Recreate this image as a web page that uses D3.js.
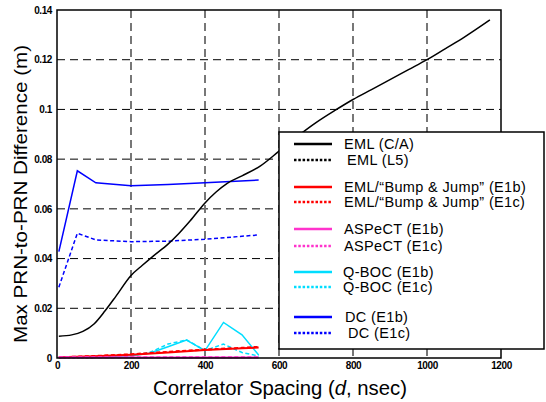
<!DOCTYPE html>
<html>
<head>
<meta charset="utf-8">
<script src="https://cdn.jsdelivr.net/npm/d3@7"></script>
<style>
  body { margin: 0; background: #fff; }
  text { font-family: 'Liberation Sans', Arial, sans-serif; }
</style>
</head>
<body>
<div id="chart"></div>
<script>
// data (x = correlator spacing in nsec, y = metres)
const emlCA = [[5,0.0088],[40,0.0093],[70,0.0107],[100,0.0137],[130,0.019],[160,0.025],[200,0.0332],
  [230,0.0372],[260,0.041],[300,0.0458],[330,0.0502],[360,0.0552],[400,0.0624],[430,0.0668],[460,0.0703],
  [500,0.0733],[550,0.0773],[600,0.0832],[650,0.0892],[700,0.0947],[750,0.0995],[800,0.104],[850,0.108],
  [900,0.112],[950,0.116],[1000,0.12],[1050,0.1245],[1100,0.129],[1170,0.136]];
const emlL5 = [[5,0.0002],[50,0.0002],[100,0.0002]];
const bjE1b = [[5,0.0003],[100,0.0007],[200,0.0013],[300,0.0022],[400,0.0032],[500,0.0039],[545,0.0042]];
const bjE1c = [[5,0.0003],[100,0.0008],[200,0.0015],[300,0.0025],[400,0.0034],[500,0.0041],[545,0.0045]];
const aspE1b = [[5,0.0002],[200,0.0002],[400,0.0002],[545,0.0002]];
const aspE1c = [[5,0.0003],[200,0.0003],[400,0.0003],[545,0.0003]];
const qbocE1b = [[5,0.0003],[100,0.0005],[200,0.0009],[250,0.0019],[300,0.0045],[350,0.0072],[400,0.003],
  [450,0.0143],[500,0.0093],[545,0.0012]];
const qbocE1c = [[5,0.0003],[100,0.0005],[200,0.0009],[250,0.0022],[300,0.0056],[350,0.0073],[400,0.003],
  [450,0.0056],[500,0.0022],[545,0.0008]];
const dcE1b = [[5,0.0428],[55,0.0753],[105,0.0705],[200,0.0693],[300,0.0698],[400,0.0705],[545,0.0716]];
const dcE1c = [[5,0.0285],[55,0.0502],[105,0.0475],[200,0.0468],[300,0.047],[400,0.0478],[545,0.0495]];

const xTicks = [0, 200, 400, 600, 800, 1000, 1200];
const yTicks = [0, 0.02, 0.04, 0.06, 0.08, 0.1, 0.12, 0.14];
const yTickLabels = ['0', '0.02', '0.04', '0.06', '0.08', '0.1', '0.12', '0.14'];

const series = [
  { name: 'EML (C/A)', data: emlCA, color: '#000', dash: null },
  { name: 'EML (L5)', data: emlL5, color: '#000', dash: '2.5,2' },
  { name: 'EML/\u201cBump & Jump\u201d (E1b)', data: bjE1b, color: '#ff0000', dash: null },
  { name: 'EML/\u201cBump & Jump\u201d (E1c)', data: bjE1c, color: '#ff0000', dash: '4,2.5' },
  { name: 'ASPeCT (E1b)', data: aspE1b, color: '#ff33cc', dash: null },
  { name: 'ASPeCT (E1c)', data: aspE1c, color: '#ff33cc', dash: '4,2.5' },
  { name: 'Q-BOC (E1b)', data: qbocE1b, color: '#00ddff', dash: null },
  { name: 'Q-BOC (E1c)', data: qbocE1c, color: '#00ddff', dash: '4,2.5' },
  { name: 'DC (E1b)', data: dcE1b, color: '#0000ff', dash: null },
  { name: 'DC (E1c)', data: dcE1c, color: '#0000ff', dash: '4,2.5' }
];

const W = 546, H = 402;
const margin = { top: 10, right: 45, bottom: 44, left: 57 };
const width = W - margin.left - margin.right;
const height = H - margin.top - margin.bottom;

const svg = d3.select('#chart').append('svg')
  .attr('width', W).attr('height', H);
const g = svg.append('g').attr('transform', `translate(${margin.left},${margin.top})`);

const x = d3.scaleLinear().domain([0, 1200]).range([0, width]);
const y = d3.scaleLinear().domain([0, 0.14]).range([height, 0]);

// grid
g.selectAll('.hgrid').data(yTicks.filter(d => d > 0 && d < 0.14)).enter()
  .append('line').attr('class', 'hgrid')
  .attr('x1', 0).attr('x2', width)
  .attr('y1', d => y(d)).attr('y2', d => y(d))
  .attr('stroke', '#000').attr('stroke-width', 1).attr('stroke-dasharray', '8,5');
g.selectAll('.vgrid').data(xTicks.filter(d => d > 0 && d < 1200)).enter()
  .append('line').attr('class', 'vgrid')
  .attr('x1', d => x(d)).attr('x2', d => x(d))
  .attr('y1', 0).attr('y2', height)
  .attr('stroke', '#777').attr('stroke-width', 2).attr('stroke-dasharray', '8,5');

// axes
const xAxis = d3.axisBottom(x).tickValues(xTicks).tickSize(0).tickPadding(4).tickFormat(d3.format('d'));
const yAxis = d3.axisLeft(y).tickValues(yTicks).tickSize(0).tickPadding(5)
  .tickFormat((d, i) => yTickLabels[i]);
const gx = g.append('g').attr('transform', `translate(0,${height})`).call(xAxis);
const gy = g.append('g').call(yAxis);
[gx, gy].forEach(a => {
  a.select('.domain').remove();
  a.selectAll('text').style('font-size', '10px').style('font-weight', 'bold')
    .style('font-family', "'Liberation Sans', Arial, sans-serif").attr('fill', '#000')
    .attr('letter-spacing', '-0.4');
});

// lines
const line = d3.line().x(d => x(d[0])).y(d => y(d[1]));
const curve = d3.line().x(d => x(d[0])).y(d => y(d[1])).curve(d3.curveMonotoneX);
const order = [9, 8, 0, 1, 7, 6, 3, 2, 5, 4];
order.forEach(i => {
  const s = series[i];
  g.append('path')
    .attr('d', i === 0 ? curve(s.data) : line(s.data))
    .attr('fill', 'none')
    .attr('stroke', s.color)
    .attr('stroke-width', i >= 2 && i <= 5 ? 2 : 1.5)
    .attr('stroke-dasharray', s.dash);
});

// frame
g.append('rect').attr('width', width).attr('height', height)
  .attr('fill', 'none').attr('stroke', '#000').attr('stroke-width', 1.5);

// axis titles
svg.append('text')
  .attr('x', 153).attr('y', 395)
  .attr('textLength', 254).attr('lengthAdjust', 'spacingAndGlyphs')
  .style('font-size', '20px')
  .html('Correlator Spacing (<tspan font-style="italic">d</tspan>, nsec)');
svg.append('text')
  .attr('transform', 'translate(27,343) rotate(-90)')
  .attr('textLength', 298).attr('lengthAdjust', 'spacingAndGlyphs')
  .style('font-size', '19px')
  .text('Max PRN-to-PRN Difference (m)');

// legend
const lg = svg.append('g').attr('transform', 'translate(279,132)');
lg.append('rect').attr('width', 265).attr('height', 217)
  .attr('fill', '#fff').attr('stroke', '#000').attr('stroke-width', 1.5);
const rowY = [12, 28, 55, 70, 97, 114, 140, 155, 185, 201];
const textX = [65, 68, 65, 65, 65, 65, 64, 64, 66, 69];
series.forEach((s, i) => {
  lg.append('line')
    .attr('x1', 15).attr('x2', 53)
    .attr('y1', rowY[i]).attr('y2', rowY[i])
    .attr('stroke', s.color).attr('stroke-width', 2.5)
    .attr('stroke-dasharray', s.dash ? '2.5,1.8' : null);
  lg.append('text')
    .attr('x', textX[i]).attr('y', rowY[i] + 5)
    .style('font-size', '14.5px')
    .attr('letter-spacing', '0.35')
    .text(s.name);
});
</script>
</body>
</html>
